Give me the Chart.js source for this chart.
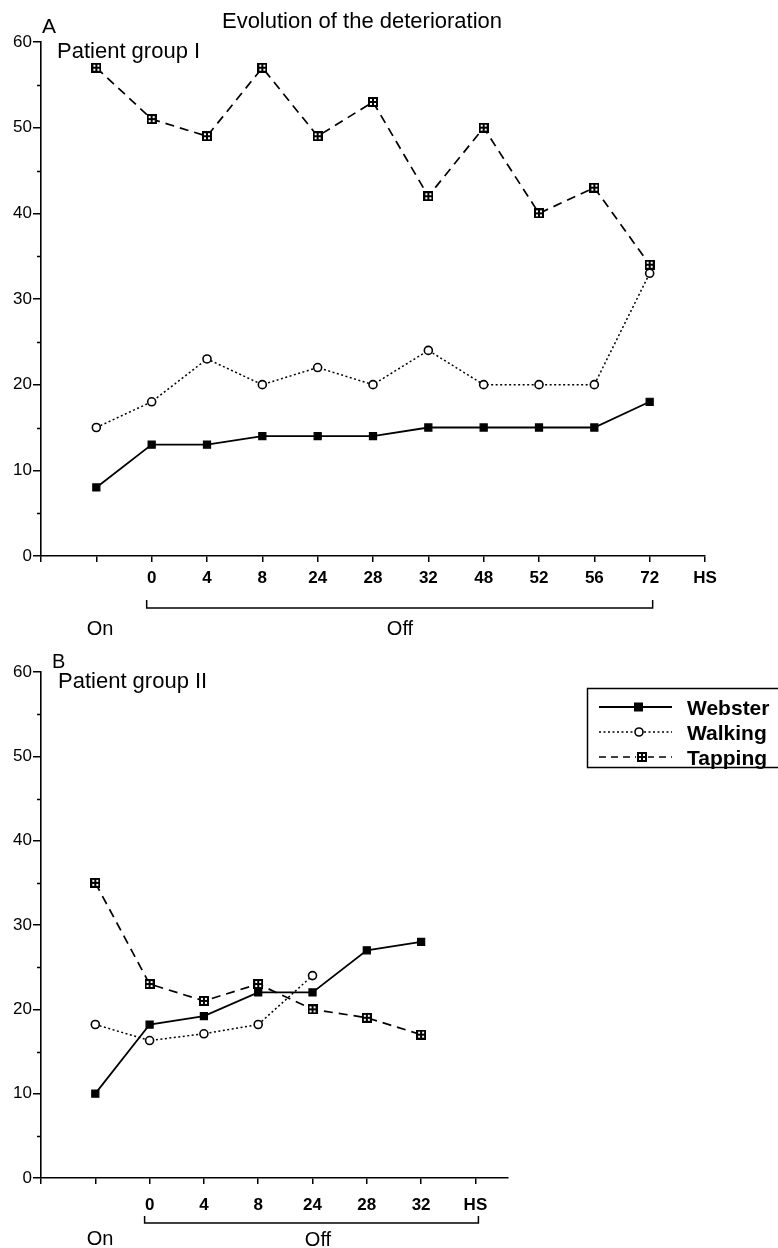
<!DOCTYPE html>
<html><head><meta charset="utf-8">
<script src="https://cdn.jsdelivr.net/npm/chart.js@4.4.0/dist/chart.umd.min.js"></script>
<style>
html,body{margin:0;padding:0;background:#fff;}
body{width:778px;height:1248px;position:relative;overflow:hidden;}
canvas{position:absolute;left:0;}
#ca{top:0;}
#cb{top:640px;}
</style></head><body>
<canvas id="ca" width="778" height="640"></canvas>
<canvas id="cb" width="778" height="608"></canvas>
<script>
// ---------- data ----------
const chartTitle = 'Evolution of the deterioration';
const seriesNames = ['Webster', 'Walking', 'Tapping'];
const yTickValues = [0, 10, 20, 30, 40, 50, 60];
const xEndLabel = 'HS';

const groupICategories = ['On', '0', '4', '8', '24', '28', '32', '48', '52', '56', '72'];
const groupIWebster = [8, 13, 13, 14, 14, 14, 15, 15, 15, 15, 18];
const groupIWalking = [15, 18, 23, 20, 22, 20, 24, 20, 20, 20, 33];
const groupITapping = [57, 51, 49, 57, 49, 53, 42, 50, 40, 43, 34];

const groupIICategories = ['On', '0', '4', '8', '24', '28', '32'];
const groupIIWebster = [10, 18.2, 19.2, 22, 22, 27, 28];
const groupIIWalking = [18.2, 16.3, 17.1, 18.2, 24];
const groupIITapping = [35, 23, 21, 23, 20, 19, 17];

// ---------- helpers ----------
const FONT = '"Liberation Sans", Arial, Helvetica, sans-serif';

function makeTapImg() {
  const c = document.createElement('canvas');
  c.width = 10; c.height = 10;
  const g = c.getContext('2d');
  g.fillStyle = '#000'; g.fillRect(0, 0, 10, 10);
  g.fillStyle = '#fff';
  g.fillRect(2, 2, 2, 2); g.fillRect(6, 2, 2, 2);
  g.fillRect(2, 6, 2, 2); g.fillRect(6, 6, 2, 2);
  return c;
}
const tapImg = makeTapImg();

function toPoints(arr) { return arr.map((v, i) => ({ x: i, y: v })); }

function styleSets(web, walk, tap) {
  return [
    { label: seriesNames[0], data: toPoints(web), borderColor: '#000', borderWidth: 1.8,
      pointStyle: 'rect', pointRadius: 5, pointBackgroundColor: '#000', pointBorderColor: '#000', pointBorderWidth: 1.2 },
    { label: seriesNames[1], data: toPoints(walk), borderColor: '#000', borderWidth: 1.5, borderDash: [2, 2.5],
      pointStyle: 'circle', pointRadius: 4, pointBackgroundColor: '#fff', pointBorderColor: '#000', pointBorderWidth: 1.6 },
    { label: seriesNames[2], data: toPoints(tap), borderColor: '#000', borderWidth: 1.7, borderDash: [9, 6],
      pointStyle: tapImg, pointRadius: 5 }
  ];
}

function txt(ctx, s, x, y, size, align, weight) {
  ctx.font = (weight || 'normal') + ' ' + size + 'px ' + FONT;
  ctx.textAlign = align || 'left';
  ctx.textBaseline = 'alphabetic';
  ctx.fillStyle = '#000';
  ctx.fillText(s, x, y);
}

function makeChart(id, cats, web, walk, tap, opt) {
  const plugin = {
    id: 'deco' + id,
    afterDraw(chart) {
      const ctx = chart.ctx, xs = chart.scales.x, ys = chart.scales.y, ca = chart.chartArea;
      ctx.save();
      ctx.strokeStyle = '#000'; ctx.lineWidth = 1.5; ctx.setLineDash([]);
      // minor y ticks
      for (let v = 5; v < 60; v += 10) {
        const py = Math.round(ys.getPixelForValue(v)) + 0.5;
        ctx.beginPath(); ctx.moveTo(ca.left - 4, py); ctx.lineTo(ca.left, py); ctx.stroke();
      }
      // bracket
      const bl = xs.getPixelForValue(1) - 5, br = xs.getPixelForValue(opt.bracketEnd) + 3;
      ctx.beginPath();
      ctx.moveTo(bl, opt.bTop); ctx.lineTo(bl, opt.bBot); ctx.lineTo(br, opt.bBot); ctx.lineTo(br, opt.bTop);
      ctx.stroke();
      opt.texts.forEach(t => txt(ctx, t[0], t[1], t[2], t[3], t[4]));
      if (opt.legend) opt.legend(ctx);
      ctx.restore();
    }
  };
  return new Chart(document.getElementById(id), {
    type: 'line',
    data: { datasets: styleSets(web, walk, tap) },
    options: {
      responsive: false, animation: false, devicePixelRatio: 1,
      layout: { padding: { top: opt.padTop, right: opt.padRight, left: 0, bottom: 0 } },
      plugins: { legend: { display: false }, tooltip: { enabled: false } },
      elements: { line: { tension: 0, fill: false } },
      scales: {
        x: {
          type: 'linear', min: -1, max: opt.xMax,
          afterFit(s) { s.height = opt.xHeight; },
          afterBuildTicks(s) { s.ticks = s.ticks.filter(t => Number.isInteger(t.value)); },
          ticks: {
            stepSize: 1, includeBounds: false, autoSkip: false, maxRotation: 0, padding: opt.xPad, color: '#000',
            font: { family: FONT, size: 17, weight: 'bold' },
            callback(v) {
              if (v >= 1 && v < cats.length) return cats[v];
              if (v === cats.length) return xEndLabel;
              return '';
            }
          },
          grid: { drawOnChartArea: false, drawTicks: true, tickLength: 6, color: '#000', lineWidth: 1.5 },
          border: { display: true, color: '#000', width: 1.6 }
        },
        y: {
          type: 'linear', min: yTickValues[0], max: yTickValues[yTickValues.length - 1],
          afterFit(s) { s.width = 41; },
          ticks: { stepSize: 10, padding: 1, color: '#000', font: { family: FONT, size: 17 } },
          grid: { drawOnChartArea: false, drawTicks: true, tickLength: 8, color: '#000', lineWidth: 1.5 },
          border: { display: true, color: '#000', width: 1.6 }
        }
      }
    },
    plugins: [plugin]
  });
}

// Panel A
makeChart('ca', groupICategories, groupIWebster, groupIWalking, groupITapping, {
  xMax: groupICategories.length, padTop: 42, padRight: 73, xHeight: 84, xPad: 6,
  bracketEnd: groupICategories.length - 1, bTop: 600, bBot: 608,
  texts: [
    [chartTitle, 362, 28, 22, 'center'],
    ['A', 42, 33, 21, 'left'],
    ['Patient group I', 57, 58, 22, 'left'],
    ['On', 100, 635, 20, 'center'],
    ['Off', 400, 635, 20, 'center']
  ]
});

// Panel B
makeChart('cb', groupIICategories, groupIIWebster, groupIIWalking, groupIITapping, {
  xMax: groupIICategories.length + 0.6, padTop: 32, padRight: 270, xHeight: 70, xPad: 11,
  bracketEnd: groupIICategories.length, bTop: 576, bBot: 583,
  texts: [
    ['B', 52, 28, 20, 'left'],
    ['Patient group II', 58, 48, 22, 'left'],
    ['On', 100, 605, 20, 'center'],
    ['Off', 318, 606, 20, 'center']
  ],
  legend(ctx) {
    ctx.lineWidth = 1.5; ctx.strokeStyle = '#000'; ctx.setLineDash([]);
    ctx.strokeRect(587.5, 48.5, 220, 79);
    const rows = [67, 92, 117];
    const dashes = [[], [2, 2.5], [7, 5]];
    rows.forEach((cy, i) => {
      ctx.setLineDash(dashes[i]);
      ctx.lineWidth = i === 0 ? 1.8 : 1.6;
      ctx.beginPath(); ctx.moveTo(599, cy); ctx.lineTo(672, cy); ctx.stroke();
      ctx.setLineDash([]);
      if (i === 0) { ctx.fillStyle = '#000'; ctx.fillRect(634, cy - 4.5, 9, 9); }
      if (i === 1) { ctx.fillStyle = '#fff'; ctx.lineWidth = 1.6; ctx.beginPath(); ctx.arc(639, cy, 4, 0, Math.PI * 2); ctx.fill(); ctx.stroke(); }
      if (i === 2) { ctx.fillStyle = '#fff'; ctx.fillRect(636, cy - 6, 12, 12); ctx.drawImage(tapImg, 637, cy - 5); }
      txt(ctx, seriesNames[i], 687, cy + 7.5, 21, 'left', 'bold');
    });
  }
});
</script>
</body></html>
